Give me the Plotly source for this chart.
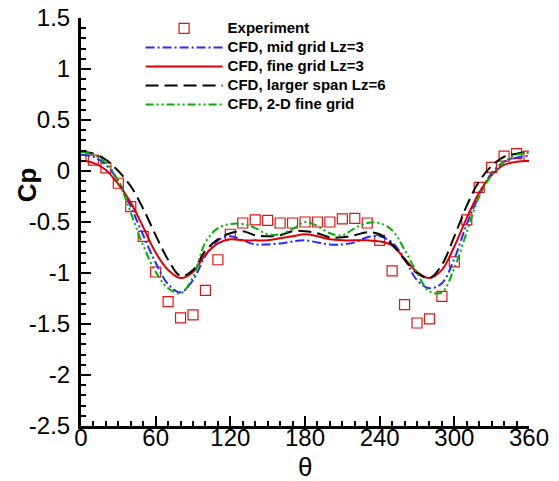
import plotly.graph_objects as go

# Experiment (every 10 deg)
theta_exp = list(range(0, 361, 10))
cp_exp = [0.15, 0.107, 0.03, -0.12, -0.35, -0.64, -0.99, -1.28, -1.44, -1.41,
          -1.17, -0.87, -0.62, -0.51, -0.48, -0.485, -0.51, -0.51, -0.50, -0.50,
          -0.50, -0.47, -0.465, -0.51, -0.68, -0.98, -1.31, -1.49, -1.45, -1.23,
          -0.89, -0.48, -0.16, 0.035, 0.145, 0.17, 0.145]

theta_cfd = list(range(0, 361, 10))
cp_mid = [0.16, 0.14, 0.06, -0.10, -0.35, -0.63, -0.90, -1.11, -1.19, -1.07,
          -0.83, -0.68, -0.64, -0.68, -0.72, -0.72, -0.71, -0.69, -0.68, -0.70,
          -0.72, -0.72, -0.70, -0.65, -0.64, -0.70, -0.86, -1.07, -1.15, -1.10,
          -0.86, -0.52, -0.24, -0.02, 0.09, 0.13, 0.15]
cp_fine = [0.10, 0.08, 0.01, -0.13, -0.31, -0.55, -0.80, -0.97, -1.05, -0.99,
           -0.82, -0.71, -0.67, -0.68, -0.68, -0.68, -0.66, -0.64, -0.62, -0.64,
           -0.67, -0.68, -0.68, -0.68, -0.69, -0.73, -0.86, -0.99, -1.05, -0.97,
           -0.74, -0.46, -0.21, -0.04, 0.06, 0.09, 0.10]
cp_lz6 = [0.19, 0.17, 0.11, 0.00, -0.15, -0.37, -0.63, -0.87, -1.03, -0.97,
          -0.78, -0.67, -0.61, -0.59, -0.63, -0.64, -0.63, -0.59, -0.59, -0.61,
          -0.65, -0.65, -0.63, -0.60, -0.62, -0.72, -0.87, -1.00, -1.05, -0.92,
          -0.64, -0.34, -0.10, 0.05, 0.14, 0.17, 0.19]
cp_2d = [0.19, 0.16, 0.08, -0.10, -0.41, -0.73, -0.99, -1.15, -1.20, -1.04,
         -0.70, -0.56, -0.52, -0.52, -0.56, -0.62, -0.62, -0.57, -0.50, -0.54,
         -0.61, -0.63, -0.56, -0.51, -0.51, -0.58, -0.77, -1.00, -1.18, -1.19,
         -0.95, -0.60, -0.25, -0.04, 0.09, 0.16, 0.18]

series_names = ["Experiment", "CFD, mid grid Lz=3", "CFD, fine grid Lz=3",
                "CFD, larger span Lz=6", "CFD, 2-D fine grid"]

x_ticks = [0, 60, 120, 180, 240, 300, 360]
x_ticktext = ["0", "60", "120", "180", "240", "300", "360"]
y_ticks = [1.5, 1, 0.5, 0, -0.5, -1, -1.5, -2, -2.5]
y_ticktext = ["1.5", "1", "0.5", "0", "-0.5", "-1", "-1.5", "-2", "-2.5"]

FONT = "Liberation Sans"


def legend_label(s):
    return '<span style="font-size:15px"><b>' + s + '</b></span>'


fig = go.Figure()
fig.add_trace(go.Scatter(x=theta_exp, y=cp_exp, mode="markers", name=legend_label(series_names[0]),
                         marker=dict(symbol="square-open", size=10, color="rgb(220,20,20)",
                                     line=dict(width=1.2))))
fig.add_trace(go.Scatter(x=theta_cfd, y=cp_mid, mode="lines", name=legend_label(series_names[1]),
                         line=dict(color="rgb(40,40,255)", width=2, dash="9px,3px,2px,3px",
                                   shape="spline", smoothing=1)))
fig.add_trace(go.Scatter(x=theta_cfd, y=cp_fine, mode="lines", name=legend_label(series_names[2]),
                         line=dict(color="rgb(220,0,0)", width=2, shape="spline", smoothing=1)))
fig.add_trace(go.Scatter(x=theta_cfd, y=cp_lz6, mode="lines", name=legend_label(series_names[3]),
                         line=dict(color="black", width=2, dash="13px,6px",
                                   shape="spline", smoothing=1)))
fig.add_trace(go.Scatter(x=theta_cfd, y=cp_2d, mode="lines", name=legend_label(series_names[4]),
                         line=dict(color="rgb(0,175,0)", width=2, dash="8px,3px,2px,3px,2px,3px",
                                   shape="spline", smoothing=1)))

axis_common = dict(showline=True, linecolor="black", linewidth=3, mirror=False,
                   showgrid=False, zeroline=False, ticks="inside", ticklen=10,
                   tickwidth=2, tickcolor="black", automargin=False,
                   ticklabeloverflow="allow",
                   tickfont=dict(family=FONT, size=24, color="black"))

fig.update_layout(
    width=551, height=473,
    margin=dict(l=73, r=30, t=10, b=55, autoexpand=False),
    paper_bgcolor="white", plot_bgcolor="white",
    showlegend=True,
    legend=dict(x=0.133, y=1.01, xanchor="left", yanchor="top",
                bgcolor="rgba(0,0,0,0)", borderwidth=0, itemwidth=77,
                tracegroupgap=0,
                font=dict(family=FONT, size=12, color="black")),
    xaxis=dict(range=[0, 360], tickmode="array", tickvals=x_ticks, ticktext=x_ticktext,
               ticklabelstandoff=-12,
               minor=dict(tickmode="linear", tick0=0, dtick=10, ticks="inside",
                          ticklen=5, tickwidth=1.5, tickcolor="black"),
               **axis_common),
    yaxis=dict(range=[-2.5, 1.5], tickmode="array", tickvals=y_ticks, ticktext=y_ticktext,
               ticklabelstandoff=3,
               minor=dict(tickmode="linear", tick0=0, dtick=0.1, ticks="inside",
                          ticklen=5, tickwidth=1.5, tickcolor="black"),
               **axis_common),
    annotations=[
        dict(text="θ", xref="paper", yref="paper", x=0.5, y=-0.1, xanchor="center",
             yanchor="middle", showarrow=False,
             font=dict(family=FONT, size=26, color="black")),
        dict(text="<b>Cp</b>", xref="paper", yref="paper", x=-0.1205, y=0.59,
             xanchor="center", yanchor="middle", textangle=-90, showarrow=False,
             font=dict(family=FONT, size=26, color="black")),
    ],
)

fig.write_html("out.html")
